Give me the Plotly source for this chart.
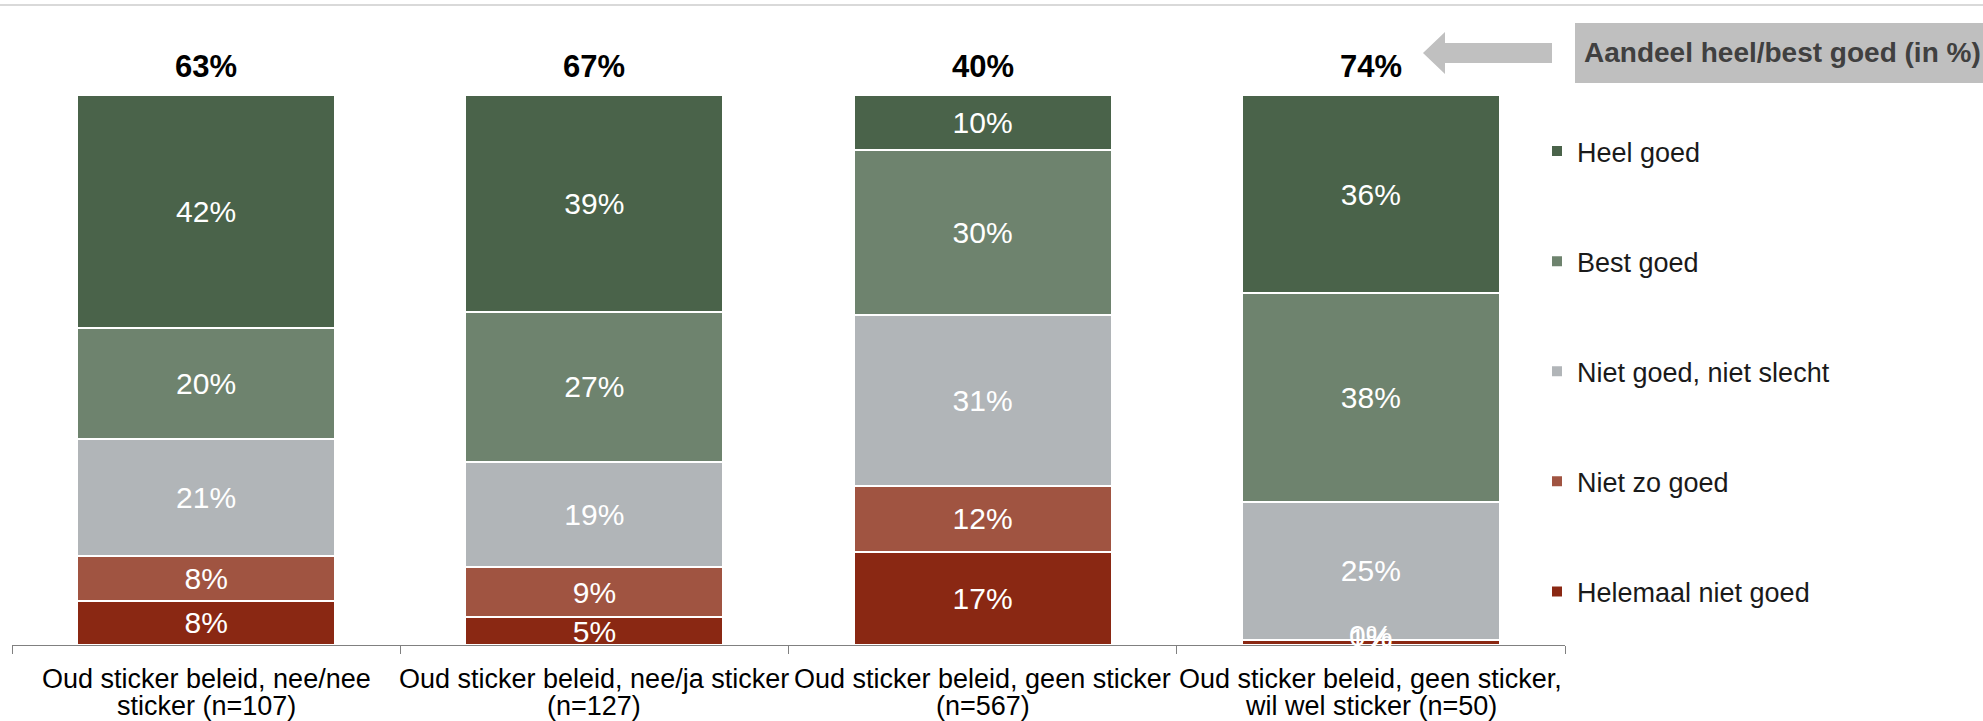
import plotly.graph_objects as go

# Data
categories = ["nee/nee", "nee/ja", "geen", "geen, wil wel"]
label_line1 = [
    "Oud sticker beleid, nee/nee",
    "Oud sticker beleid, nee/ja sticker",
    "Oud sticker beleid, geen sticker",
    "Oud sticker beleid, geen sticker,",
]
label_line2 = [
    "sticker (n=107)",
    "(n=127)",
    "(n=567)",
    "wil wel sticker (n=50)",
]
helemaal_niet_goed = [8, 5, 17, 1]
niet_zo_goed = [8, 9, 12, 0]
niet_goed_niet_slecht = [21, 19, 31, 25]
best_goed = [20, 27, 30, 38]
heel_goed = [42, 39, 10, 36]
aandeel_goed = [63, 67, 40, 74]

series = [
    ("Helemaal niet goed", helemaal_niet_goed, "#8a2813"),
    ("Niet zo goed", niet_zo_goed, "#a05441"),
    ("Niet goed, niet slecht", niet_goed_niet_slecht, "#b1b5b8"),
    ("Best goed", best_goed, "#6e836e"),
    ("Heel goed", heel_goed, "#4a634a"),
]

FONT = "Liberation Sans, Arial, sans-serif"
W, H = 1983, 721
ML, MR, MT, MB = 12, 418, 95, 76
SMALL = 3  # segments below this get their label drawn on top of the stack

totals = [sum(s[1][i] for s in series) for i in range(len(categories))]

fig = go.Figure()
for i, (name, vals, color) in enumerate(series):
    fig.add_trace(go.Bar(
        name=name,
        legendgroup=name,
        legendrank=len(series) - i,
        x=categories,
        y=vals,
        marker=dict(color=color, line=dict(color="white", width=2)),
        text=[f"{v}%" if v >= SMALL else "" for v in vals],
        textposition="inside",
        insidetextanchor="middle",
        textfont=dict(color="white", size=30, family=FONT),
        constraintext="none",
        cliponaxis=False,
        hoverinfo="skip",
    ))

# Labels of very thin segments, drawn above all bars
base = [0] * len(categories)
for name, vals, color in series:
    for j, v in enumerate(vals):
        if v < SMALL:
            fig.add_annotation(
                x=categories[j], xref="x",
                y=(base[j] + v / 2) / totals[j] * 100, yref="y",
                text=f"{v}%", showarrow=False,
                yanchor="middle", yshift=4,
                font=dict(size=30, color="white", family=FONT),
            )
        base[j] += v

# Share "heel/best goed" above each bar
for cat, v in zip(categories, aandeel_goed):
    fig.add_annotation(
        x=cat, y=100, xref="x", yref="y",
        text=f"<b>{v}%</b>", showarrow=False,
        yanchor="middle", yshift=29,
        font=dict(size=31, color="black", family=FONT),
    )

# Pixel -> paper helpers for decorations
pw = W - ML - MR
ph = H - MT - MB


def px(x):
    return (x - ML) / pw


def py(y):
    return (H - MB - y) / ph


# Two-line category labels under the axis
for cat, l1, l2 in zip(categories, label_line1, label_line2):
    for txt, ypix in ((l1, 679), (l2, 706)):
        fig.add_annotation(
            x=cat, xref="x", y=py(ypix), yref="paper",
            text=txt, showarrow=False,
            xanchor="center", yanchor="middle",
            font=dict(size=27, color="black", family=FONT),
        )

# Arrow pointing from the caption box to the totals
arrow_pts = [(1423, 53), (1445, 32), (1445, 43), (1552, 43),
             (1552, 63), (1445, 63), (1445, 74)]
path = "M " + " L ".join(f"{px(x):.5f},{py(y):.5f}" for x, y in arrow_pts) + " Z"
fig.add_shape(type="path", path=path, xref="paper", yref="paper",
              fillcolor="#c0c0c0", line=dict(width=0))

# Caption box
fig.add_shape(type="rect", xref="paper", yref="paper",
              x0=px(1575), x1=px(1990), y0=py(83), y1=py(23),
              fillcolor="#bfbfbf", line=dict(width=0))
fig.add_annotation(
    xref="paper", yref="paper", x=px(1782), y=py(53),
    text="<b>Aandeel heel/best goed (in %)</b>", showarrow=False,
    xanchor="center", yanchor="middle",
    font=dict(size=28, color="#404040", family=FONT),
)

# Thin rule along the top
fig.add_shape(type="line", xref="paper", yref="paper",
              x0=px(0), x1=px(W), y0=py(5), y1=py(5),
              line=dict(color="#d9d9d9", width=2))

fig.update_layout(
    width=W, height=H,
    margin=dict(l=ML, r=MR, t=MT, b=MB, pad=0),
    barmode="stack",
    barnorm="percent",
    bargap=0.335,
    plot_bgcolor="white",
    paper_bgcolor="white",
    font=dict(family=FONT, color="black"),
    uniformtext=dict(mode="show", minsize=30),
    showlegend=True,
    legend=dict(
        x=px(1537), xanchor="left",
        y=py(127), yanchor="top",
        traceorder="grouped",
        tracegroupgap=72,
        itemclick=False,
        font=dict(size=27, color="#1a1a1a", family=FONT),
        bgcolor="rgba(0,0,0,0)",
    ),
    xaxis=dict(
        showline=True, linecolor="#808080", linewidth=1,
        ticks="outside", tickson="boundaries", ticklen=8, tickcolor="#808080",
        showticklabels=False,
        showgrid=False, zeroline=False,
    ),
    yaxis=dict(
        range=[0, 100], visible=False, showgrid=False, zeroline=False,
    ),
)

fig.write_html("out.html")
